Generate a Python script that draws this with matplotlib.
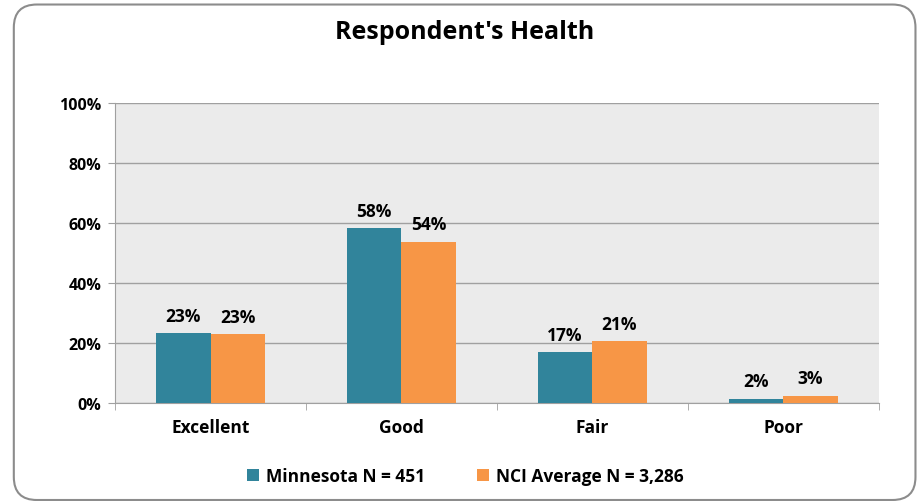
import matplotlib

matplotlib.use("Agg")

import matplotlib.pyplot as plt  # noqa: E402
import numpy as np  # noqa: E402
from matplotlib.patches import FancyBboxPatch  # noqa: E402

categories = ["Excellent", "Good", "Fair", "Poor"]
minnesota = [23.3, 58.3, 16.9, 1.5]
nci = [23.0, 53.8, 20.6, 2.5]
minnesota_labels = ["23%", "58%", "17%", "2%"]
nci_labels = ["23%", "54%", "21%", "3%"]
series_names = ["Minnesota N = 451", "NCI Average N = 3,286"]

TEAL = "#31849b"
ORANGE = "#f79646"

plt.rcParams["font.family"] = ["Open Sans", "DejaVu Sans"]
plt.rcParams["font.weight"] = "bold"

fig = plt.figure(figsize=(9.21, 5.02), dpi=100)
ax = fig.add_axes([0.125, 0.195, 0.829, 0.598])

# rounded outer frame
frame = FancyBboxPatch((0.015, 0.002), 0.979, 0.987, boxstyle="round,pad=0,rounding_size=0.025",
                       transform=fig.transFigure, facecolor="none", edgecolor="#8c8c8c", linewidth=1.5,
                       mutation_aspect=921 / 502)
fig.patches.append(frame)

x = np.arange(len(categories))
w = 0.285
b1 = ax.bar(x - w / 2, minnesota, w, color=TEAL, label=series_names[0], zorder=3)
b2 = ax.bar(x + w / 2, nci, w, color=ORANGE, label=series_names[1], zorder=3)

for bars, labels in ((b1, minnesota_labels), (b2, nci_labels)):
    for bar, lab in zip(bars, labels):
        ax.annotate(lab, (bar.get_x() + bar.get_width() / 2, bar.get_height()), xytext=(0, 6),
                    textcoords="offset points", ha="center", va="bottom", fontsize=12.5, fontweight="bold")

ax.set_facecolor("#ebebeb")
ax.set_xlim(-0.5, len(categories) - 0.5)
ax.set_ylim(0, 100)
ax.set_yticks(range(0, 101, 20))
ax.set_yticklabels([f"{v}%" for v in range(0, 101, 20)], fontsize=11.5, fontweight="bold")
ax.set_xticks(x)
ax.set_xticklabels(categories, fontsize=12.5, fontweight="bold")
ax.tick_params(axis="x", length=0, pad=11)
ax.set_xticks(np.arange(-0.5, len(categories)), minor=True)
ax.tick_params(axis="x", which="minor", length=5, color="#a0a0a0", direction="out")
ax.tick_params(axis="y", length=5, color="#a0a0a0", pad=5)
ax.grid(axis="y", color="#a0a0a0", linewidth=1, zorder=0)
for s in ("top", "right"):
    ax.spines[s].set_visible(False)
for s in ("left", "bottom"):
    ax.spines[s].set_color("#a0a0a0")

fig.text(465 / 921, 1 - 33 / 502, "Respondent's Health", fontsize=18, fontweight="bold",
         ha="center", va="center")

fig.legend(handles=[b1, b2], loc="center", bbox_to_anchor=(0.505, 0.05), ncol=2, frameon=False,
           handlelength=0.7, handleheight=0.7, handletextpad=0.4, columnspacing=3.0,
           prop={"weight": "bold", "size": 12.5})

fig.savefig("out.png", dpi=100)
